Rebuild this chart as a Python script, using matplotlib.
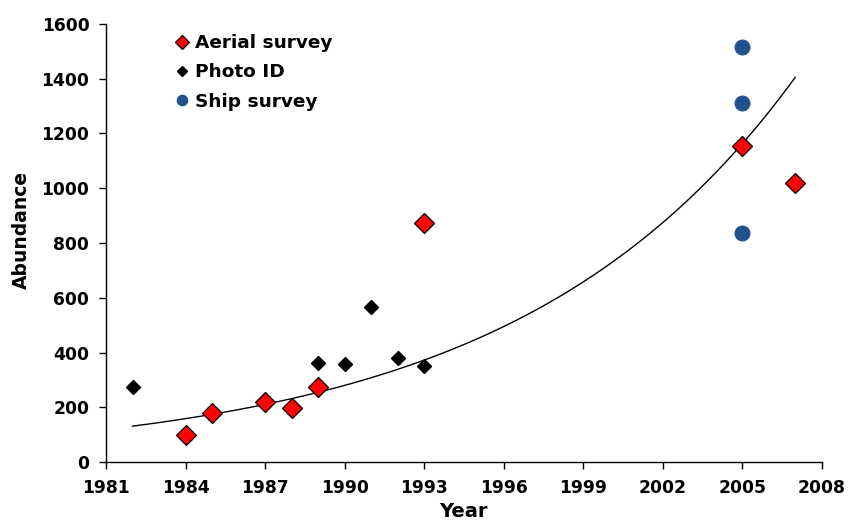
import numpy as np
import matplotlib.pyplot as plt

plt.rcParams['font.family'] = ['DejaVu Sans']
plt.rcParams['font.weight'] = 'bold'

# Abundance estimates by survey method
aerial_years = [1984, 1985, 1987, 1988, 1989, 1993, 2005, 2007]
aerial_abund = [100, 178, 220, 198, 273, 873, 1155, 1018]

photo_years = [1982, 1989, 1990, 1991, 1992, 1993]
photo_abund = [275, 360, 357, 568, 379, 351]

ship_years = [2005, 2005, 2005]
ship_abund = [1515, 1312, 835]

# Exponential trend: abundance = a * exp(b * (year - 1982))
trend_a = 131.0
trend_b = 0.0949
trend_span = [1982, 2007]

fig = plt.figure(figsize=(8.64, 5.21), dpi=100)
ax = fig.add_axes([0.1227, 0.1132, 0.8283, 0.8408])

yrs = np.linspace(trend_span[0], trend_span[1], 200)
ax.plot(yrs, trend_a * np.exp(trend_b * (yrs - trend_span[0])), color='black', lw=1.0, zorder=1)

ax.plot(aerial_years, aerial_abund, 'D', color='#ff0000', mec='black', mew=0.9, ms=10,
        ls='none', label='Aerial survey', zorder=3)
ax.plot(photo_years, photo_abund, 'D', color='black', ms=7.5, ls='none', label='Photo ID', zorder=2)
ax.plot(ship_years, ship_abund, 'o', color='#22508c', ms=10.5, ls='none', label='Ship survey', zorder=2)

ax.set_xlim(1981, 2008)
ax.set_ylim(0, 1600)
ax.set_xticks(np.arange(1981, 2009, 3))
ax.set_yticks(np.arange(0, 1601, 200))
ax.tick_params(direction='out', length=5, width=1, labelsize=12.3, pad=7)
for s in ['top', 'right']:
    ax.spines[s].set_visible(False)
for s in ['left', 'bottom']:
    ax.spines[s].set_linewidth(1)

ax.set_xlabel('Year', fontsize=14, fontweight='bold', labelpad=4)
ax.set_ylabel('Abundance', fontsize=13.5, fontweight='bold')
ax.yaxis.set_label_coords(-0.105, 0.53)

leg = ax.legend(loc='upper left', bbox_to_anchor=(0.075, 1.015), frameon=False, fontsize=13.3,
                handlelength=0.6, handletextpad=0.4, labelspacing=0.62, markerscale=0.7)

fig.savefig('out.png', dpi=100)
